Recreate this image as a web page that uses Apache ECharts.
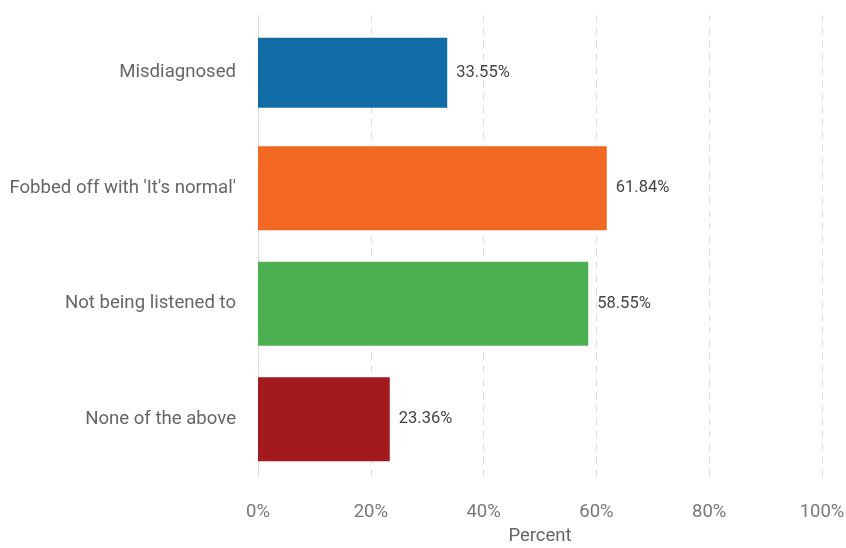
<!DOCTYPE html>
<html>
<head>
<meta charset="utf-8">
<script src="https://cdn.jsdelivr.net/npm/echarts@6/dist/echarts.min.js"></script>
<style>
  html, body { margin: 0; padding: 0; background: #fff; }
  #chart { width: 846px; height: 548px; }
</style>
</head>
<body>
<div id="chart"></div>
<script>
const categories = ['Misdiagnosed', "Fobbed off with 'It's normal'", 'Not being listened to', 'None of the above'];
const values = [33.55, 61.84, 58.55, 23.36];
const colors = ['#116CA6', '#F26722', '#4CAF50', '#A3191D'];

const chart = echarts.init(document.getElementById('chart'));

// first bar is drawn a bit thinner than the rest in the original,
// so it sits on its own (hidden) category axis with its own barWidth
const items = values.map((v, i) => ({ value: v, itemStyle: { color: colors[i] } }));
const firstOnly = items.map((d, i) => (i === 0 ? d : '-'));
const others = items.map((d, i) => (i === 0 ? '-' : d));

const label = {
  show: true,
  position: 'right',
  distance: 9,
  color: '#444',
  fontSize: 16.5,
  fontFamily: 'Roboto',
  formatter: p => p.value.toFixed(2) + '%'
};

chart.setOption({
  backgroundColor: '#fff',
  textStyle: { fontFamily: 'Roboto' },
  grid: { left: 258, right: 24, top: 15, bottom: 71, outerBoundsMode: 'none' },
  xAxis: {
    type: 'value',
    min: 0,
    max: 100,
    interval: 20,
    name: 'Percent',
    nameLocation: 'middle',
    nameGap: 50,
    nameTextStyle: { color: '#666', fontSize: 18.5 },
    axisLine: { show: false },
    axisTick: { show: false },
    axisLabel: { color: '#777', fontSize: 18.5, margin: 26, formatter: v => v + '%' },
    splitLine: { show: true, lineStyle: { color: '#ddd', type: [7, 6], width: 1 } }
  },
  yAxis: [
    {
      type: 'category',
      data: categories,
      inverse: true,
      axisLine: { show: true, lineStyle: { color: '#ddd' } },
      axisTick: { show: false },
      axisLabel: { color: '#666', fontSize: 18.6, margin: 22 }
    },
    {
      type: 'category',
      data: categories,
      inverse: true,
      show: false
    }
  ],
  series: [
    { type: 'bar', yAxisIndex: 1, data: firstOnly, barWidth: 70, label, animation: false },
    { type: 'bar', yAxisIndex: 0, data: others, barWidth: 84, label, animation: false }
  ]
});
</script>
</body>
</html>
